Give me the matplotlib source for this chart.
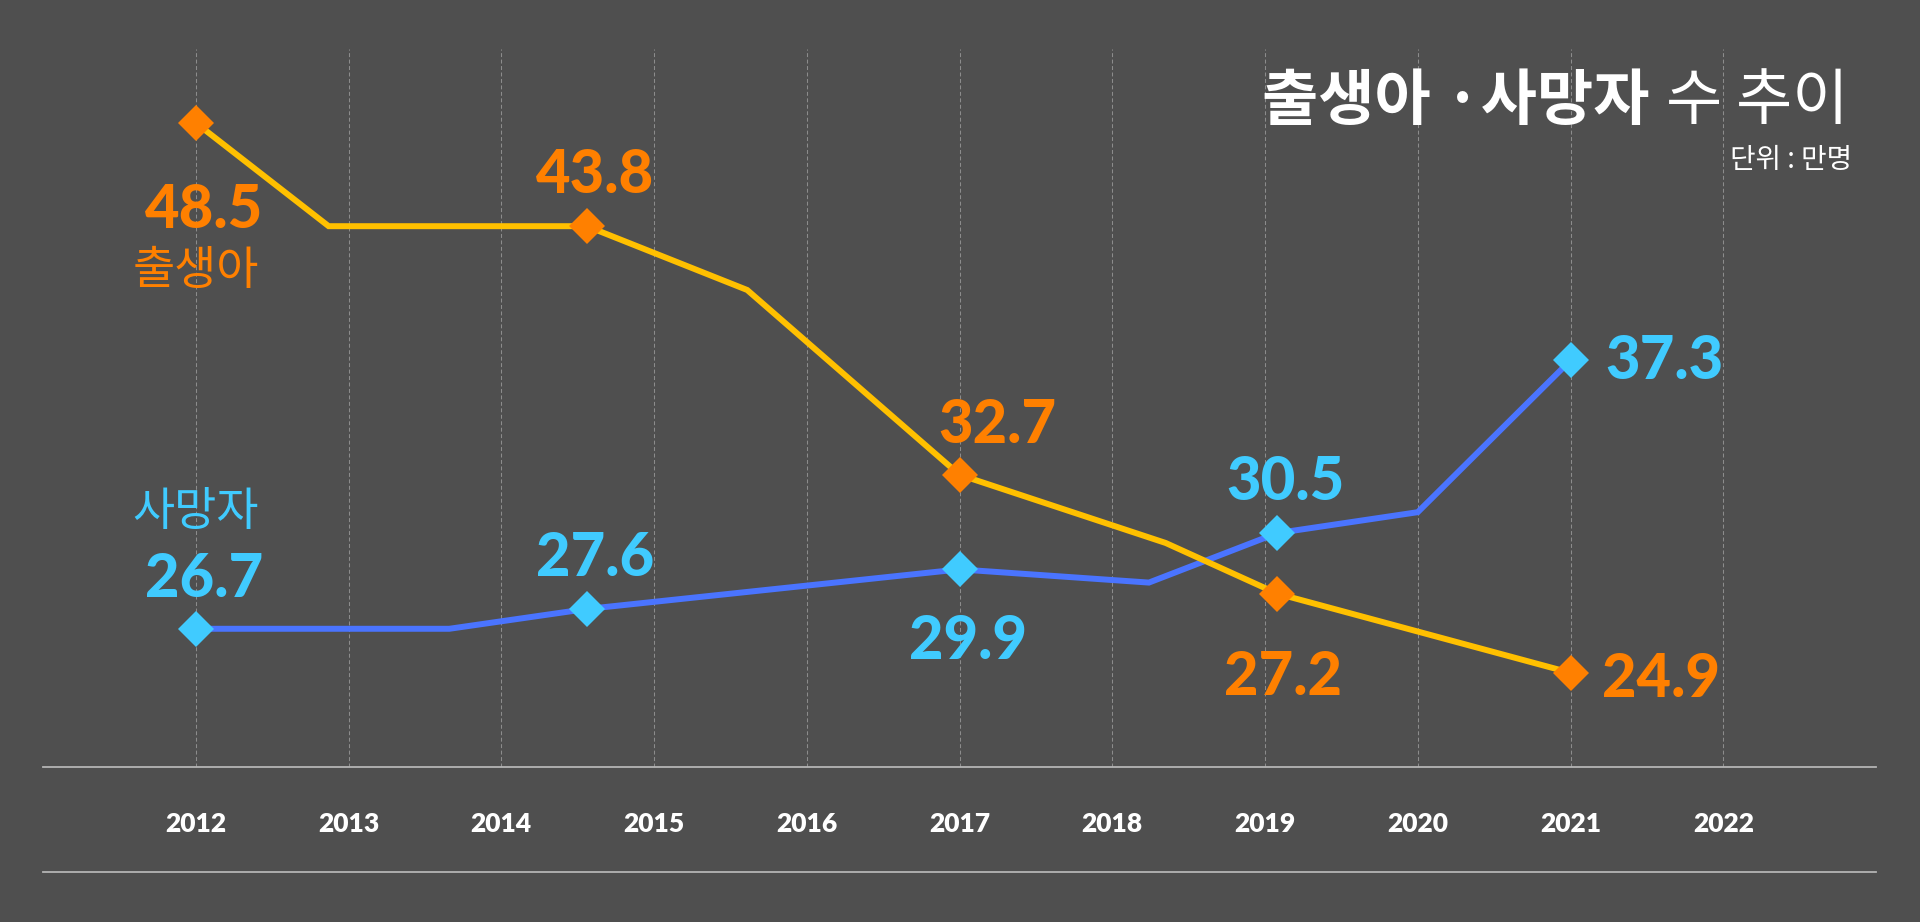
import matplotlib
matplotlib.use("Agg")
import matplotlib.pyplot as plt
from matplotlib.text import Annotation

# ---------------- data ----------------
years = [2012, 2013, 2014, 2015, 2016, 2017, 2018, 2019, 2020, 2021, 2022]
year_labels = [str(y) for y in years]

birth_x = [2012, 2012.87, 2014.56, 2015.61, 2017.0, 2018.35, 2019.08, 2021.0]
birth_y = [48.5, 43.8, 43.8, 40.9, 32.5, 29.4, 27.1, 23.5]
birth_marker_idx = [0, 2, 4, 6, 7]
birth_labels = ["48.5", "43.8", "32.7", "27.2", "24.9"]

death_x = [2012, 2013.66, 2014.56, 2017.0, 2018.24, 2019.08, 2020.0, 2021.0]
death_y = [25.5, 25.5, 26.4, 28.2, 27.6, 29.85, 30.8, 37.7]
death_marker_idx = [0, 2, 3, 5, 7]
death_labels = ["26.7", "27.6", "29.9", "30.5", "37.3"]

birth_name = "출생아"
death_name = "사망자"
title_bold = "출생아 ·사망자"
title_light = "수 추이"
unit_text = "단위 : 만명"

# ---------------- style ----------------
BG = "#4f4f4f"
BIRTH_LINE = "#ffc000"
BIRTH_MARK = "#ff8000"
DEATH_LINE = "#4a74ff"
DEATH_MARK = "#40cbff"
NUM = ["Lato", "DejaVu Sans"]
KR = ["Noto Sans CJK KR", "DejaVu Sans"]
PX = 0.72  # points per pixel at dpi 100

# label offsets (pixels, relative to marker centre): dx, dy(baseline, down positive), ha
birth_off = [(8, 105, "center"), (8, -33, "center"), (38, -32, "center"),
             (6, 101, "center"), (31, 24, "left")]
death_off = [(8, -32, "center"), (8, -33, "center"), (8, 90, "center"),
             (8, -33, "center"), (35, 19, "left")]

fig = plt.figure(figsize=(19.2, 9.22), dpi=100, facecolor=BG)
W, H = 1920, 922
ax_left, ax_right, ax_top, ax_bottom = 43, 1876, 49.3, 766.5
ax = fig.add_axes([ax_left / W, (H - ax_bottom) / H,
                   (ax_right - ax_left) / W, (ax_bottom - ax_top) / H])
ax.set_facecolor(BG)
ax.set_xlim(2011, 2023)
y0, y1 = 19.24, 51.84
ax.set_ylim(y0, y1)
for s in ax.spines.values():
    s.set_visible(False)
ax.set_yticks([])

# gridlines
ax.vlines(years, y0, y1, colors="#8c8c8c", linestyles=(0, (3.8, 2.4)),
          linewidth=0.75, zorder=1)
# axis line and bottom line
ax.axhline(y0, color="#b4b4b4", lw=1.3, clip_on=False, zorder=2)
ax.plot([0, 1], [-0.147, -0.147], transform=ax.transAxes, color="#b4b4b4",
        lw=1.3, clip_on=False, zorder=2)

# ticks
ax.set_xticks(years)
ax.set_xticklabels(year_labels, fontsize=19, fontweight="heavy", color="white",
                   family=NUM)
ax.tick_params(axis="x", length=0, pad=33)

# lines
ax.plot(death_x, death_y, color=DEATH_LINE, lw=4.3, zorder=3,
        solid_joinstyle="miter")
ax.plot(birth_x, birth_y, color=BIRTH_LINE, lw=4.3, zorder=4,
        solid_joinstyle="miter")
ax.plot([death_x[i] for i in death_marker_idx], [death_y[i] for i in death_marker_idx],
        ls="none", marker="D", ms=18.5, mew=0, color=DEATH_MARK, zorder=5)
ax.plot([birth_x[i] for i in birth_marker_idx], [birth_y[i] for i in birth_marker_idx],
        ls="none", marker="D", ms=18.5, mew=0, color=BIRTH_MARK, zorder=6)

# value labels
for i, lab, (dx, dy, ha) in zip(birth_marker_idx, birth_labels, birth_off):
    ax.annotate(lab, xy=(birth_x[i], birth_y[i]), xytext=(dx * PX, -dy * PX),
                textcoords="offset points", ha=ha, va="baseline", fontsize=43,
                fontweight="black", color=BIRTH_MARK, family=NUM, zorder=7)
for i, lab, (dx, dy, ha) in zip(death_marker_idx, death_labels, death_off):
    ax.annotate(lab, xy=(death_x[i], death_y[i]), xytext=(dx * PX, -dy * PX),
                textcoords="offset points", ha=ha, va="baseline", fontsize=43,
                fontweight="black", color=DEATH_MARK, family=NUM, zorder=7)

# series names
ax.annotate(birth_name, xy=(birth_x[0], birth_y[0]), xytext=(0, -161 * PX),
            textcoords="offset points", ha="center", va="baseline", fontsize=33,
            fontweight="light", color=BIRTH_MARK, family=KR)
ax.annotate(death_name, xy=(death_x[0], death_y[0]), xytext=(0, 104 * PX),
            textcoords="offset points", ha="center", va="baseline", fontsize=33,
            fontweight="light", color=DEATH_MARK, family=KR)

# title
t_light = fig.text(1848 / W, (H - 119) / H, title_light, ha="right", va="baseline",
                   fontsize=44, fontweight="light", color="white", family=KR)
t_bold = Annotation(title_bold, xy=(0, 0), xycoords=t_light,
                    xytext=(-16 * PX, 0), textcoords="offset points",
                    ha="right", va="bottom", fontsize=44,
                    fontweight="bold", color="white", family=KR)
fig.add_artist(t_bold)
fig.text(1852 / W, (H - 168.5) / H, unit_text, ha="right", va="baseline",
         fontsize=20, fontweight="light", color="white", family=KR)

fig.savefig("out.png", dpi=100, facecolor=BG)
